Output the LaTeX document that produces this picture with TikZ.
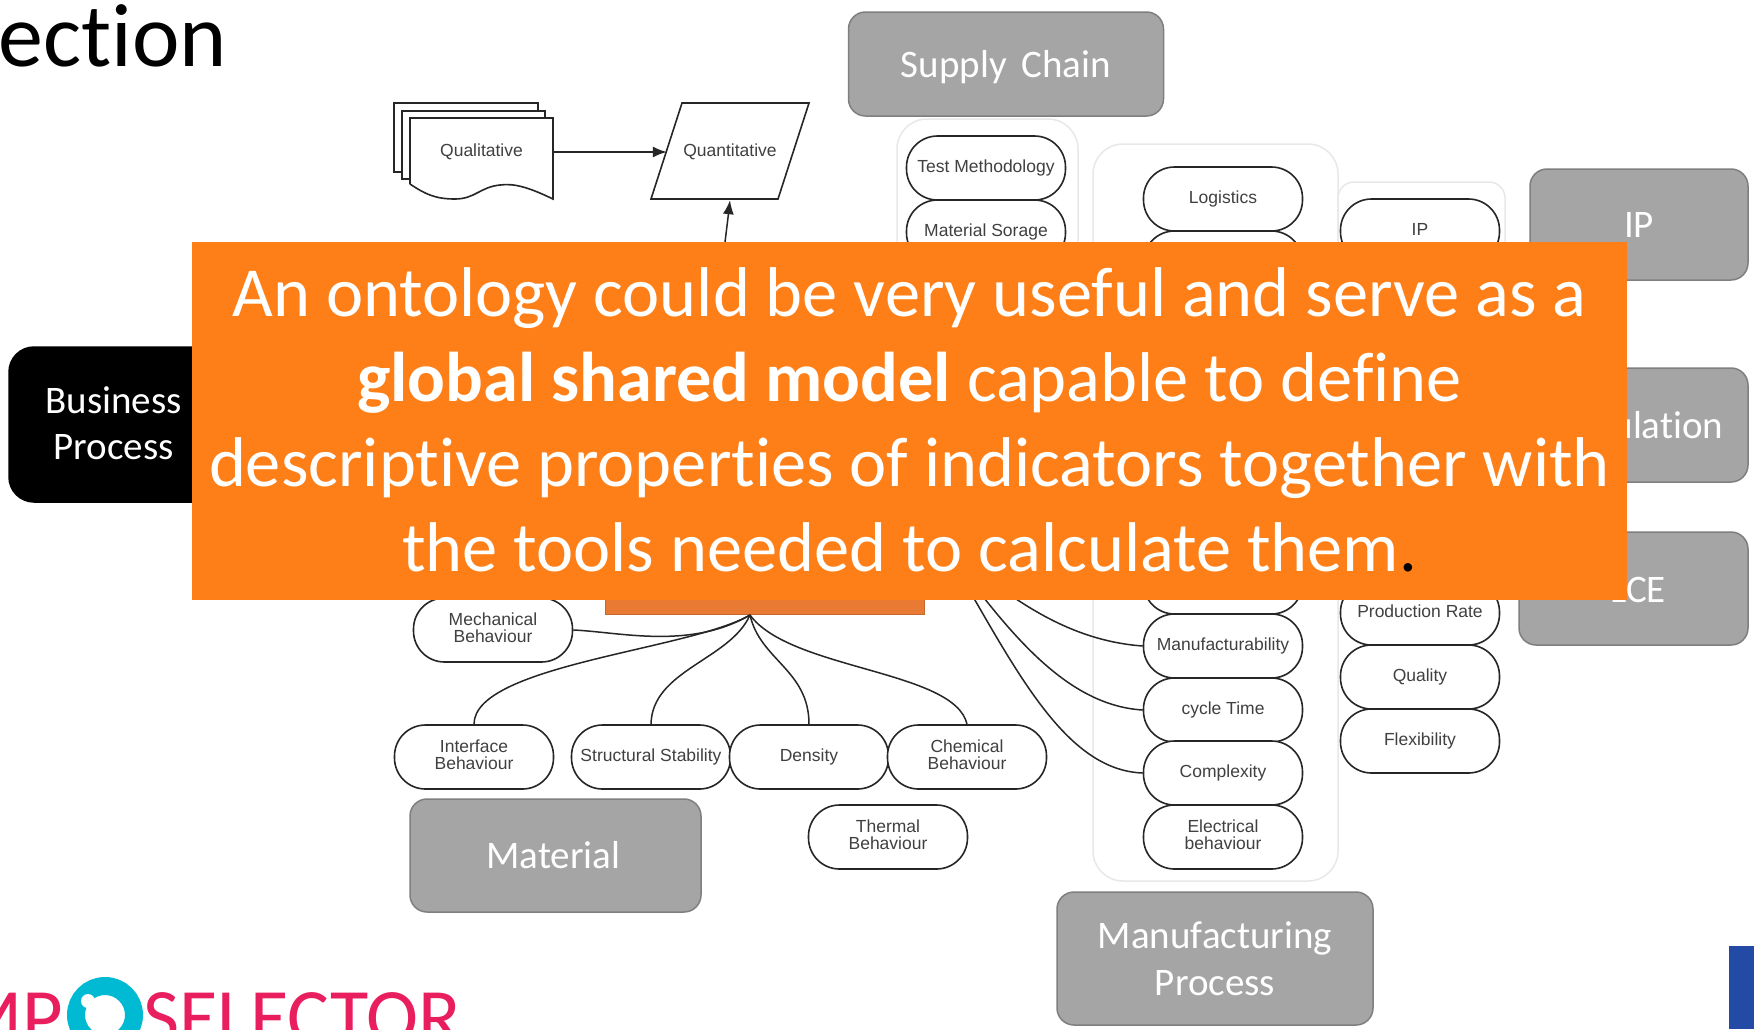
\documentclass[tikz,border=0pt]{standalone}
\usepackage{fontspec}
\setmainfont{Carlito}[Ligatures={NoCommon}]
\newfontfamily\pillfont{Liberation Sans}
\usetikzlibrary{arrows.meta,positioning,calc}
\definecolor{overlayorange}{HTML}{FE7F17}
\definecolor{hubfill}{HTML}{E97A33}
\definecolor{greyfill}{HTML}{A5A5A5}
\definecolor{greyedge}{HTML}{7F7F7F}
\definecolor{groupedge}{HTML}{E8E8E8}
\definecolor{logopink}{HTML}{E91E5F}
\definecolor{logocyan}{HTML}{00B9D3}
\definecolor{cornerblue}{HTML}{234BA5}
\tikzset{
        pill/.style = {draw=black!85, fill=white, rectangle, line width=1.6pt,
            rounded corners=31pt,
            minimum height=64pt,
            minimum width=159pt,
            align=center, text=black!75,
            execute at end node={\rule[-4pt]{0pt}{0pt}},
            font=\pillfont\fontsize{17.5}{16.8}\selectfont},
        group/.style = {draw=groupedge, fill=white, rectangle, line width=1.5pt, rounded corners=30pt},
        topic/.style = {draw=greyedge, fill=greyfill, rectangle, line width=1.5pt,
            rounded corners=17pt, text=white, align=center,
            font=\fontsize{39}{47}\selectfont},
        topictext/.style = {inner sep=0, text=white, align=center, font=\fontsize{39}{46}\selectfont},
        link/.style = {draw=black!85, line width=1.5pt},
        arrow/.style = {link, -{Latex[length=14pt,width=11pt]}},
        paper/.style = {draw=black!85, fill=white, line width=1.6pt},
        flowtext/.style = {inner sep=0, text=black!75, font=\pillfont\fontsize{17.5}{17.5}\selectfont},
    }
\begin{document}
\begin{tikzpicture}[x=1pt,y=-1pt]
    \useasboundingbox (0,0) rectangle (1754,1029);
    \clip (0,0) rectangle (1754,1029);
    \fill[white] (0,0) rectangle (1754,1029);

    % title and logo
    \node[anchor=base east, inner sep=0, font=\fontsize{90}{90}\selectfont] (title) at (227,66) {ection};
    \node[anchor=base west, inner sep=0, text=logopink, font=\fontsize{78.5}{78.5}\selectfont] (logoa) at (-45,1043) {MP};
    \node[anchor=base west, inner sep=0, text=logopink, font=\fontsize{78.5}{78.5}\selectfont] (logob) at (143,1043) {SELECTOR};
    \node[circle, draw=logocyan, line width=18pt, fill=white, minimum size=58pt, inner sep=0] (logoc) at (105,1015) {};
    \fill[white] (88,1001) circle (7pt);

    % groups
    \draw[group] (897,119) rectangle (1078,590);
    \draw[group] (1093,144) rectangle (1338,881);
    \draw[group, rounded corners=16pt] (1338,182) rectangle (1505,590);

    % hub
    \node[draw=hubfill!85!black, fill=hubfill, minimum width=319pt, minimum height=114pt, line width=1pt] (hub) at (764.5,557) {};
    \coordinate (hubb) at (750,615);
    \coordinate (hubr) at (940,540);

    % pills
    \node[pill] (test) at (986,168) {Test Methodology};
    \node[pill] (storage) at (986,232) {Material Sorage};
    \node[pill] (logistics) at (1223,199) {Logistics};
    \node[pill] (hiddena) at (1223,263) {};
    \node[pill] (hiddenb) at (1223,582) {};
    \node[pill] (manuf) at (1223,646) {Manufacturability};
    \node[pill] (cycle) at (1223,710) {cycle Time};
    \node[pill] (complex) at (1223,773) {Complexity};
    \node[pill] (elec) at (1223,837) {Electrical\\behaviour};
    \node[pill] (ipp) at (1420,231) {IP};
    \node[pill] (rate) at (1420,613) {Production Rate};
    \node[pill] (quality) at (1420,677) {Quality};
    \node[pill] (flex) at (1420,741) {Flexibility};
    \node[pill] (mech) at (493,630) {Mechanical\\Behaviour};
    \node[pill] (iface) at (474,757) {Interface\\Behaviour};
    \node[pill] (struct) at (651,757) {Structural Stability};
    \node[pill] (density) at (809,757) {Density};
    \node[pill] (chem) at (967,757) {Chemical\\Behaviour};
    \node[pill] (thermal) at (888,837) {Thermal\\Behaviour};

    % links into hub
    \draw[link] (mech.east) .. controls (620,632) and (690,650) .. (hubb);
    \draw[link] (iface.north) .. controls (474,665) and (690,650) .. (hubb);
    \draw[link] (struct.north) .. controls (652,670) and (730,660) .. (hubb);
    \draw[link] (density.north) .. controls (809,670) and (760,660) .. (hubb);
    \draw[link] (chem.north) .. controls (955,670) and (790,670) .. (hubb);
    \draw[link] (hubr) .. controls (1010,657) and (1060,770) .. (complex.west);
    \draw[link] (hubr) .. controls (1000,620) and (1060,705) .. (cycle.west);
    \draw[link] (hubr) .. controls (1000,590) and (1060,640) .. (manuf.west);

    % documents
    \draw[paper] (394,172) -- (394,103) -- (538,103) -- (538,172) -- cycle;
    \draw[paper] (402,179) -- (402,111) -- (545,111) -- (545,179) -- cycle;
    \draw[paper] (410,184) -- (410,118) -- (553,118) -- (553,199)
        .. controls (530,188) and (515,183) .. (500,185)
        .. controls (480,187) and (475,199) .. (455,199)
        .. controls (435,199) and (425,194) .. (410,184);
    \node[flowtext, minimum width=143pt] (qual) at (481.5,152) {Qualitative};
    \draw[paper] (651,199) -- (682,103) -- (809,103) -- (778,199) -- cycle;
    \node[flowtext, minimum width=126pt, minimum height=96pt] (quant) at (730,152) {Quantitative};
    \draw[arrow] (qual.east) -- (quant.west);
    \draw[arrow] (hub.north) .. controls (700,400) and (722,270) .. (quant.south);

    % topics
    \node[topic, minimum width=315pt, minimum height=104pt] (supply) at (1006,64) {\rule{0pt}{33pt}Supply\hspace{6pt} Chain};
    \node[topic, minimum width=218pt, minimum height=111pt] (iptopic) at (1639,224.5) {IP};
    \node[topic, minimum width=218pt, minimum height=114pt] (sim) at (1639,425) {Simulation};
    \node[topic, minimum width=229pt, minimum height=113pt] (lce) at (1633.5,588.5) {\hspace*{9pt}\rule{0pt}{28pt}LCE};
    \node[topic, minimum width=291pt, minimum height=113pt] (material) at (555.5,855.5) {\hspace*{-4pt}Material};
    \node[topic, minimum width=316pt, minimum height=133pt] (mfg) at (1215,958.5) {Manufacturing\\Process};
    \node[topic, draw=black, fill=black, minimum width=240pt, minimum height=155pt, rounded corners=25pt] (business) at (129,424.5) {};
    \node[topictext] (businesstext) at (113.5,423.5) {Business\\Process};

    % message
    \node[fill=overlayorange, text=white, minimum width=1435pt, minimum height=358pt, inner sep=0, align=center,
        execute at end node={\rule[-3pt]{0pt}{0pt}},
        font=\fontsize{70.4}{84.7}\selectfont] (message) at (909.5,421)
        {An ontology could be very useful and serve as a\\
        \textbf{global shared model} capable to define\\
        descriptive properties of indicators together with\\
        the tools needed to calculate them\textcolor{black}{.}};

    % corner
    \fill[cornerblue] (1729,946) rectangle (1754,1029);
\end{tikzpicture}
\end{document}
